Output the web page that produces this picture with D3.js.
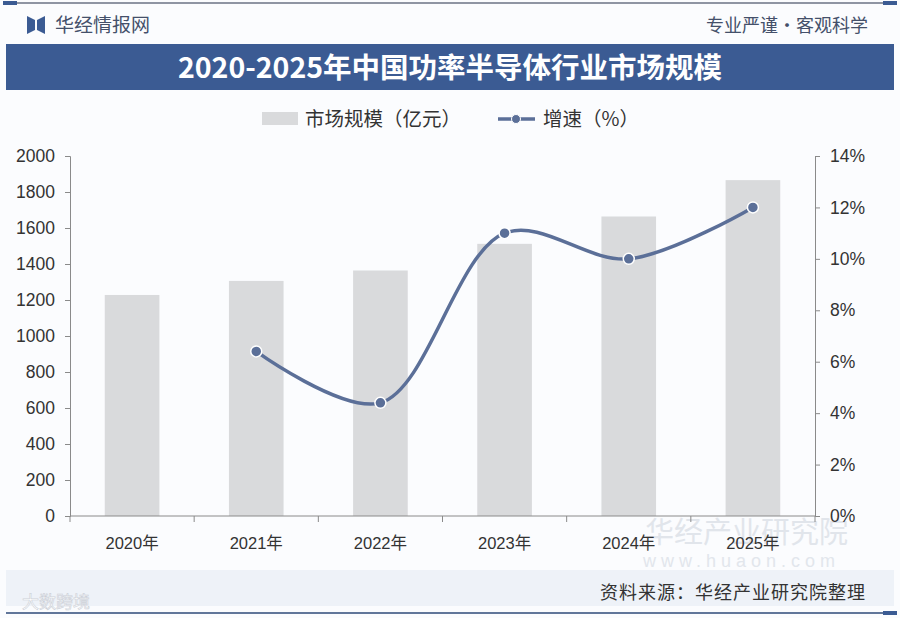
<!DOCTYPE html>
<html>
<head>
<meta charset="utf-8">
<script src="https://cdn.jsdelivr.net/npm/d3@7/dist/d3.min.js"></script>
<style>
  body { margin: 0; background: #fff; }
  svg { display: block; font-family: "Liberation Sans", "Noto Sans CJK SC", sans-serif; }
</style>
</head>
<body>
<div id="chart"></div>
<script>
// data
var years = ['2020年', '2021年', '2022年', '2023年', '2024年', '2025年']
var marketSize = [1228, 1306, 1364, 1512, 1664, 1866]   // 亿元
var growth = [null, 6.4, 4.4, 11.0, 10.0, 12.0]          // %
var leftTicks = [0, 200, 400, 600, 800, 1000, 1200, 1400, 1600, 1800, 2000]
var rightTicks = [0, 2, 4, 6, 8, 10, 12, 14]

var W = 900, H = 618
var m = { left: 70, right: 815, top: 156, bottom: 516 }
var blue = '#3b5b93', lineBlue = '#5b6f98', barGray = '#d9dadc', axisGray = '#8a8a8a'

var svg = d3.select('#chart').append('svg').attr('width', W).attr('height', H)

// background + frame
svg.append('rect').attr('width', W).attr('height', H).attr('fill', '#fbfcfe')
svg.append('rect').attr('x', 6).attr('y', 570).attr('width', 888).attr('height', 36).attr('fill', '#eef2f8')
svg.append('line').attr('x1', 6).attr('x2', 894).attr('y1', 3).attr('y2', 3).attr('stroke', '#6b7384').attr('stroke-width', 1.5)
svg.append('rect').attr('x', 3).attr('y', 1).attr('width', 14).attr('height', 4).attr('fill', blue)
svg.append('rect').attr('x', 883).attr('y', 1).attr('width', 14).attr('height', 4).attr('fill', blue)
svg.append('line').attr('x1', 6).attr('x2', 894).attr('y1', 613).attr('y2', 613).attr('stroke', '#2e4a78').attr('stroke-width', 1.5)
svg.append('rect').attr('x', 883).attr('y', 611).attr('width', 14).attr('height', 4).attr('fill', blue)

// logo + slogans
svg.append('path').attr('d', 'M27,16 L35,20 L35,30 L27,34 Z M45,16 L37,20 L37,30 L45,34 Z').attr('fill', blue)
svg.append('text').attr('x', 55).attr('y', 32).attr('font-size', 19).attr('fill', '#44506a')
  .style('font-family', '"Noto Sans CJK SC"').text('华经情报网')
svg.append('text').attr('x', 868).attr('y', 32).attr('text-anchor', 'end').attr('font-size', 18).attr('fill', '#44506a')
  .style('font-family', '"Noto Sans CJK SC"').text('专业严谨•客观科学')

// title band
svg.append('rect').attr('x', 6).attr('y', 44).attr('width', 888).attr('height', 46).attr('fill', blue)
svg.append('text').attr('x', 450).attr('y', 78).attr('text-anchor', 'middle').attr('fill', '#fff')
  .attr('font-size', 28.5).attr('font-weight', 'bold').style('font-family', '"Noto Sans CJK SC"')
  .text('2020-2025年中国功率半导体行业市场规模')

// watermarks
svg.append('text').attr('x', 645).attr('y', 543).attr('font-size', 29).attr('fill', '#e1e5eb')
  .style('font-family', '"Noto Sans CJK SC"').text('华经产业研究院')
svg.append('text').attr('x', 643).attr('y', 567).attr('font-size', 18).attr('fill', '#e2e6ec')
  .attr('letter-spacing', 5).text('www.huaon.com')

// scales
var x = d3.scaleBand().domain(years).range([m.left, m.right]).paddingInner(0.56).paddingOuter(0.28)
var yL = d3.scaleLinear().domain([0, 2000]).range([m.bottom, m.top])
var yR = d3.scaleLinear().domain([0, 14]).range([m.bottom, m.top])
var step = x.step()

// bars
svg.append('g').selectAll('rect').data(marketSize).enter().append('rect')
  .attr('x', (d, i) => x(years[i]))
  .attr('width', x.bandwidth())
  .attr('y', d => yL(d))
  .attr('height', d => yL(0) - yL(d))
  .attr('fill', barGray)

// axes
var axL = svg.append('g').attr('transform', 'translate(' + m.left + ',0)')
  .call(d3.axisLeft(yL).tickValues(leftTicks).tickSize(5).tickPadding(10).tickFormat(d3.format('d')))
var axR = svg.append('g').attr('transform', 'translate(' + m.right + ',0)')
  .call(d3.axisRight(yR).tickValues(rightTicks).tickSize(5).tickPadding(10).tickFormat(d => d + '%'))
var xGrid = [m.left].concat(years.map(d => x(d) - (step - x.bandwidth()) / 2 + step))
var axB = svg.append('g').attr('transform', 'translate(0,' + m.bottom + ')')
  .call(d3.axisBottom(x).tickSize(0).tickPadding(21))
axB.selectAll('.tick').attr('transform', d => 'translate(' + (x(d) + x.bandwidth() / 2) + ',0)')
axB.selectAll('.tick-mark').data(xGrid).enter().append('line').attr('class', 'tick-mark')
  .attr('x1', d => d).attr('x2', d => d).attr('y1', 0).attr('y2', 6).attr('stroke', axisGray)
axB.select('.domain').attr('d', 'M' + m.left + ',0H' + m.right)

;[axL, axR, axB].forEach(function(a) {
  a.selectAll('.domain, .tick line').attr('stroke', axisGray)
  a.selectAll('text').attr('font-size', 17.5).attr('fill', '#333')
    .style('font-family', '"Liberation Sans", "Noto Sans CJK SC", sans-serif')
})
axB.selectAll('text').attr('font-size', 16.5)

// growth line
var pts = growth.map((g, i) => ({ g: g, yr: years[i] })).filter(d => d.g != null)
var line = d3.line()
  .x(d => x(d.yr) + x.bandwidth() / 2)
  .y(d => yR(d.g))
  .curve(d3.curveCatmullRom.alpha(0.5))
svg.append('path').datum(pts).attr('d', line).attr('fill', 'none')
  .attr('stroke', lineBlue).attr('stroke-width', 3.5)
svg.append('g').selectAll('circle').data(pts).enter().append('circle')
  .attr('cx', d => x(d.yr) + x.bandwidth() / 2)
  .attr('cy', d => yR(d.g))
  .attr('r', 5.5).attr('fill', lineBlue).attr('stroke', '#fff').attr('stroke-width', 1.5)

// legend
var lg = svg.append('g').style('font-family', '"Noto Sans CJK SC"')
lg.append('rect').attr('x', 262).attr('y', 112).attr('width', 36).attr('height', 13).attr('fill', barGray)
lg.append('text').attr('x', 305).attr('y', 126).attr('font-size', 19.5).attr('fill', '#333').text('市场规模（亿元）')
lg.append('line').attr('x1', 498).attr('x2', 535).attr('y1', 119).attr('y2', 119).attr('stroke', lineBlue).attr('stroke-width', 3.5)
lg.append('circle').attr('cx', 516).attr('cy', 119).attr('r', 4.5).attr('fill', lineBlue).attr('stroke', '#fff').attr('stroke-width', 1)
lg.append('text').attr('x', 543).attr('y', 126).attr('font-size', 19.5).attr('fill', '#333').text('增速（%）')

// footer
svg.append('text').attr('x', 866).attr('y', 599).attr('text-anchor', 'end').attr('font-size', 18).attr('fill', '#333')
  .attr('letter-spacing', 1).style('font-family', '"Noto Sans CJK SC"').text('资料来源：华经产业研究院整理')
svg.append('text').attr('x', 22).attr('y', 608).attr('font-size', 17).attr('fill', '#fff').attr('opacity', 0.9)
  .attr('stroke', '#c8ccd4').attr('stroke-width', 0.6)
  .style('font-family', '"Noto Sans CJK SC"').text('大数跨境')
</script>
</body>
</html>
